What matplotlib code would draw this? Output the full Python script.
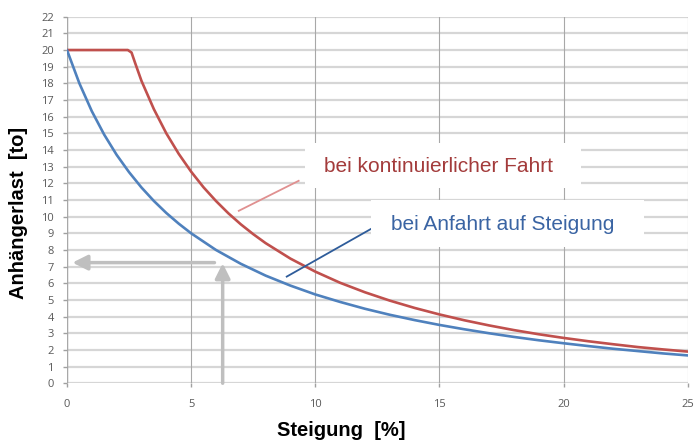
import matplotlib.pyplot as plt

# Steigung [%] / Anhängerlast [to]
steigung_anfahrt = [0, 0.5, 1, 1.5, 2, 2.5, 3, 3.5, 4, 4.5, 5, 6, 7, 8, 9, 10, 11, 12, 13, 14, 15,
                    16, 17, 18, 19, 20, 21, 22, 23, 24, 25]
last_anfahrt = [20, 18.0, 16.33, 14.92, 13.71, 12.67, 11.75, 10.94, 10.22, 9.58, 9.0, 8.0, 7.17, 6.46,
                5.86, 5.33, 4.88, 4.47, 4.11, 3.79, 3.5, 3.24, 3.0, 2.78, 2.58, 2.4, 2.23, 2.07, 1.93,
                1.79, 1.67]

steigung_fahrt = [0, 2.45, 2.6, 2.75, 3, 3.5, 4, 4.5, 5, 5.5, 6, 6.5, 7, 7.5, 8, 9, 10, 11, 12, 13,
                  14, 15, 16, 17, 18, 19, 20, 21, 22, 23, 24, 25]
last_fahrt = [20, 20, 19.85, 19.2, 18.15, 16.45, 15.0, 13.77, 12.7, 11.76, 10.94, 10.2, 9.54, 8.95,
              8.41, 7.48, 6.7, 6.03, 5.46, 4.96, 4.52, 4.13, 3.78, 3.47, 3.19, 2.94, 2.72, 2.52,
              2.34, 2.17, 2.03, 1.9]

x_ticks = [0, 5, 10, 15, 20, 25]
y_ticks = list(range(0, 23))

text_fahrt = 'bei kontinuierlicher Fahrt'
text_anfahrt = 'bei Anfahrt auf Steigung'

fig = plt.figure(figsize=(6.94, 4.4), dpi=100)
ax = fig.add_axes([0.0965, 0.129, 0.8945, 0.833])

ax.set_xlim(0, 25)
ax.set_ylim(0, 22)
ax.set_xticks(x_ticks)
ax.set_yticks(y_ticks)
ax.tick_params(axis='both', colors='#a0a0a0', labelcolor='#595959', labelsize=8, length=3, width=1)
for lab in ax.get_xticklabels() + ax.get_yticklabels():
    lab.set_family('Open Sans')
ax.tick_params(axis='x', pad=8)
ax.tick_params(axis='y', pad=6.5)

# Gitter
for y in y_ticks:
    ax.axhline(y, color='#d6d6d6', lw=1.6, zorder=0)
for x in x_ticks:
    ax.axvline(x, color='#a8a8a8', lw=0.8, zorder=0)
for s in ax.spines.values():
    s.set_visible(False)
ax.axvline(0, color='#a8a8a8', lw=1, zorder=0)

ax.plot(steigung_fahrt, last_fahrt, color='#c0504d', lw=1.9, zorder=3,
        solid_capstyle='round', solid_joinstyle='round')
ax.plot(steigung_anfahrt, last_anfahrt, color='#4f81bd', lw=1.9, zorder=3,
        solid_capstyle='round', solid_joinstyle='round')

# graue Ablese-Pfeile
pfeil = dict(arrowstyle='-|>,head_length=0.9,head_width=0.45', color='#bfbfbf', lw=2.5, shrinkA=0, shrinkB=0)
ax.annotate('', xy=(0.22, 7.24), xytext=(5.94, 7.24), arrowprops=pfeil, zorder=2)
ax.annotate('', xy=(6.27, 7.2), xytext=(6.27, 0), arrowprops=pfeil, zorder=2)

# Beschriftungen mit Hinweislinien
ax.plot([6.92, 9.33], [10.35, 12.15], color='#e09090', lw=1.3, zorder=4)
ax.plot([8.85, 12.24], [6.4, 9.26], color='#2e5c9a', lw=1.3, zorder=4)
ax.add_patch(plt.Rectangle((9.6, 11.72), 11.1, 2.7, facecolor='white', edgecolor='none', zorder=5))
ax.add_patch(plt.Rectangle((12.24, 8.18), 11.0, 2.82, facecolor='white', edgecolor='none', zorder=5))
ax.text(10.36, 13.0, text_fahrt, color='#a33b3b', fontsize=15, family='Liberation Sans',
        ha='left', va='center', zorder=6)
ax.text(13.04, 9.5, text_anfahrt, color='#3a64a3', fontsize=15, family='Liberation Sans',
        ha='left', va='center', zorder=6)

fig.text(0.491, 0.008, 'Steigung  [%]', fontsize=14.5, fontweight='bold', family='Liberation Sans',
         ha='center', va='baseline')
fig.text(0.027, 0.516, 'Anhängerlast  [to]', fontsize=14.5, fontweight='bold', family='Liberation Sans',
         ha='center', va='center', rotation=90)

fig.savefig('out.png', dpi=100)
